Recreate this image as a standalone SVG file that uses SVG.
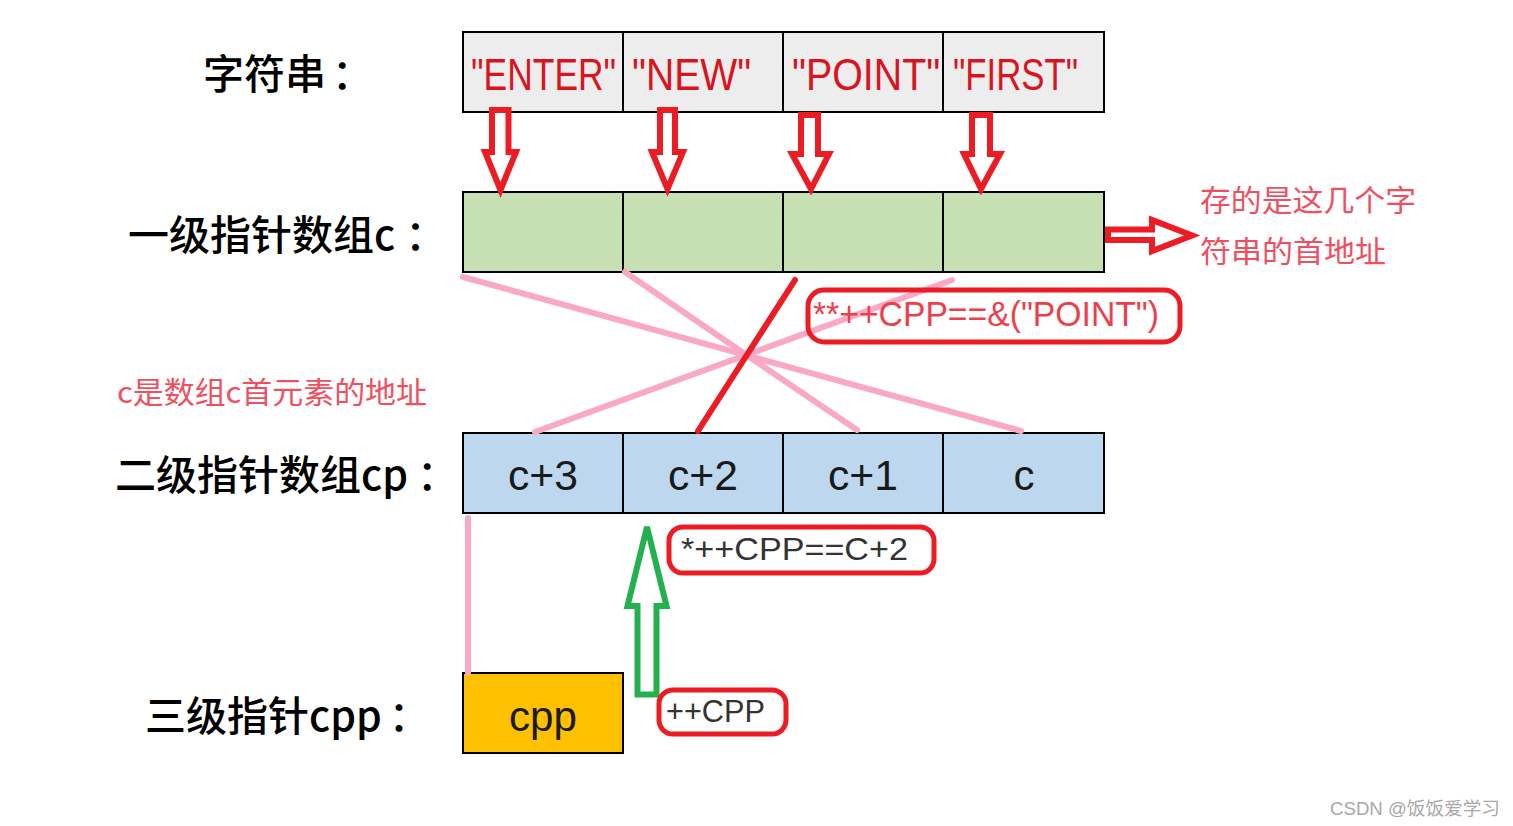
<svg xmlns="http://www.w3.org/2000/svg" width="1513" height="826" viewBox="0 0 1513 826">
<style>
.cell{stroke:#000;stroke-width:2}
.str{fill:#ededed}
.grn{fill:#c6e0b4}
.blu{fill:#bdd7ee}
.gold{fill:#ffc000}
.lbl{font-family:"Noto Sans CJK SC","Liberation Sans",sans-serif;font-size:41px;font-weight:500;fill:#000}
.note{font-family:"Noto Sans CJK SC","Liberation Sans",sans-serif;font-size:30px;fill:#ef4f5f}
.sv{font-family:"Liberation Sans","Noto Sans CJK SC",sans-serif;font-size:44px;fill:#d9141e}
.cv{font-family:"Liberation Sans","Noto Sans CJK SC",sans-serif;font-size:42px;fill:#1a1a1a;text-anchor:middle}
.expr{font-family:"Liberation Sans",sans-serif;font-size:32px;fill:#333}
.rarrow{fill:#fff;stroke:#ed1c24;stroke-width:6;stroke-linejoin:miter}
.garrow{fill:#fff;stroke:#22b14c;stroke-width:6;stroke-linejoin:miter}
.pink{stroke:#f9a9c6;stroke-width:6;fill:none;stroke-linecap:round}
.redline{stroke:#ed1c24;stroke-width:6;fill:none;stroke-linecap:round}
.rbox{fill:none;stroke:#ed1c24;stroke-width:5}
</style>

<g id="labels">
<text class="lbl" x="203" y="89">字符串<tspan dx="6">：</tspan></text>
<text class="lbl" x="128" y="250">一级指针数组c<tspan dx="10">：</tspan></text>
<text class="lbl" x="115" y="490">二级指针数组cp<tspan dx="9">：</tspan></text>
<text class="lbl" x="145" y="731">三级指针cpp<tspan dx="7">：</tspan></text>
</g>

<g id="strings">
<rect class="cell str" x="463" y="32" width="160" height="80"/>
<rect class="cell str" x="623" y="32" width="160" height="80"/>
<rect class="cell str" x="783" y="32" width="160" height="80"/>
<rect class="cell str" x="943" y="32" width="161" height="80"/>
<text class="sv" transform="translate(471,90) scale(0.805,1)" x="0" y="0">"ENTER"</text>
<text class="sv" transform="translate(632,90) scale(0.89,1)" x="0" y="0">"NEW"</text>
<text class="sv" transform="translate(792,90) scale(0.895,1)" x="0" y="0">"POINT"</text>
<text class="sv" transform="translate(953,90) scale(0.79,1)" x="0" y="0">"FIRST"</text>
</g>

<g id="array-c">
<rect class="cell grn" x="463" y="192" width="160" height="80"/>
<rect class="cell grn" x="623" y="192" width="160" height="80"/>
<rect class="cell grn" x="783" y="192" width="160" height="80"/>
<rect class="cell grn" x="943" y="192" width="161" height="80"/>
</g>

<g id="array-cp">
<rect class="cell blu" x="463" y="433" width="160" height="80"/>
<rect class="cell blu" x="623" y="433" width="160" height="80"/>
<rect class="cell blu" x="783" y="433" width="160" height="80"/>
<rect class="cell blu" x="943" y="433" width="161" height="80"/>
<text class="cv" x="543" y="490" textLength="70" lengthAdjust="spacingAndGlyphs">c+3</text>
<text class="cv" x="703" y="490" textLength="70" lengthAdjust="spacingAndGlyphs">c+2</text>
<text class="cv" x="863" y="490" textLength="70" lengthAdjust="spacingAndGlyphs">c+1</text>
<text class="cv" x="1024" y="490">c</text>
</g>

<g id="cpp">
<rect class="cell gold" x="463" y="673" width="160" height="80"/>
<text class="cv" x="543" y="731" textLength="68" lengthAdjust="spacingAndGlyphs">cpp</text>
</g>

<g id="connectors">
<path class="rarrow" d="M492,110 H508.5 V152 H516 L500.5,190 L485,152 H492 Z"/>
<path class="rarrow" d="M660,110 H675 V152 H683 L667.5,189 L652,152 H660 Z"/>
<path class="rarrow" d="M801,115 H818 V154 H829 L811,189 L792,154 H801 Z"/>
<path class="rarrow" d="M972,115 H990 V154 H1000 L981,189 L964,154 H972 Z"/>
<path class="rarrow" d="M1108,229.5 H1152 V220 L1192,235.5 L1152,251 V240 H1108 Z"/>
<path class="garrow" d="M637.5,694.5 V606 H627.5 L647,527 L666.5,606 H656.5 V694.5 Z"/>
<line class="pink" x1="463" y1="277" x2="1021" y2="431"/>
<polyline class="pink" points="625,272 742,352 857,430"/>
<line class="pink" x1="952" y1="280" x2="535" y2="432"/>
<line class="redline" x1="795" y1="280" x2="698" y2="431"/>
<line class="pink" x1="468" y1="518" x2="468" y2="673"/>
</g>

<g id="note-right">
<text class="note" x="1200" y="211" textLength="216" lengthAdjust="spacingAndGlyphs">存的是这几个字</text>
<text class="note" x="1200" y="262" textLength="186" lengthAdjust="spacingAndGlyphs">符串的首地址</text>
</g>

<g id="note-left">
<text class="note" x="117" y="403" textLength="310" lengthAdjust="spacingAndGlyphs">c是数组c首元素的地址</text>
</g>

<g id="expr-pp">
<rect class="rbox" x="808" y="290" width="372" height="52" rx="16"/>
<text class="expr" x="813" y="326" style="fill:#ec3f4b;font-size:35px" textLength="346" lengthAdjust="spacingAndGlyphs">**++CPP==&amp;("POINT")</text>
</g>

<g id="expr-c2">
<rect class="rbox" x="669" y="527" width="265" height="46" rx="14"/>
<text class="expr" x="681" y="560" textLength="227" lengthAdjust="spacingAndGlyphs">*++CPP==C+2</text>
</g>

<g id="expr-inc">
<rect class="rbox" x="659" y="690" width="127" height="44" rx="14"/>
<text class="expr" x="666" y="722" textLength="99" lengthAdjust="spacingAndGlyphs">++CPP</text>
</g>

<text x="1330" y="815" style="font-family:'Liberation Sans','Noto Sans CJK SC',sans-serif;font-size:18px;fill:#a8a8a8" textLength="170" lengthAdjust="spacingAndGlyphs">CSDN @饭饭爱学习</text>
</svg>
